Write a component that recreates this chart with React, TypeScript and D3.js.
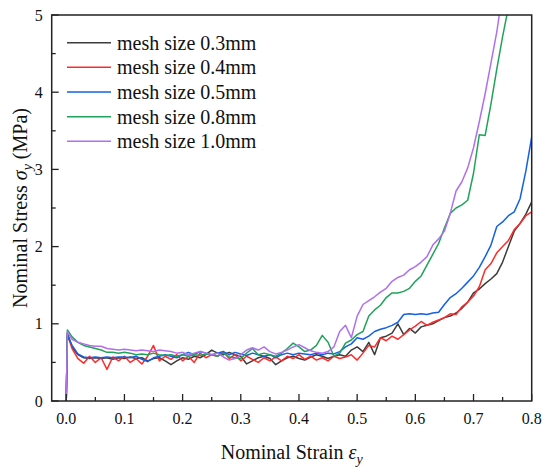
import * as d3 from 'd3';

const strain = [
  0, 0.002, 0.01, 0.02, 0.03, 0.04, 0.05, 0.06, 0.07, 0.08, 0.09,
  0.10, 0.11, 0.12, 0.13, 0.14, 0.15, 0.16, 0.17, 0.18, 0.19,
  0.20, 0.21, 0.22, 0.23, 0.24, 0.25, 0.26, 0.27, 0.28, 0.29,
  0.30, 0.31, 0.32, 0.33, 0.34, 0.35, 0.36, 0.37, 0.38, 0.39,
  0.40, 0.41, 0.42, 0.43, 0.44, 0.45, 0.46, 0.47, 0.48, 0.49,
  0.50, 0.51, 0.52, 0.53, 0.54, 0.55, 0.56, 0.57, 0.58, 0.59,
  0.60, 0.61, 0.62, 0.63, 0.64, 0.65, 0.66, 0.67, 0.68, 0.69,
  0.70, 0.71, 0.72, 0.73, 0.74, 0.75, 0.76, 0.77, 0.78, 0.79, 0.80,
];

const mesh03 = [
  0, 0.88, 0.70, 0.60, 0.56, 0.55, 0.56, 0.55, 0.56, 0.54, 0.56,
  0.55, 0.57, 0.55, 0.56, 0.52, 0.55, 0.56, 0.52, 0.47, 0.52,
  0.56, 0.54, 0.58, 0.56, 0.60, 0.66, 0.62, 0.60, 0.63, 0.60,
  0.58, 0.48, 0.52, 0.56, 0.58, 0.55, 0.47, 0.52, 0.56, 0.58,
  0.55, 0.53, 0.57, 0.60, 0.58, 0.55, 0.58, 0.60, 0.58, 0.66,
  0.70, 0.64, 0.76, 0.60, 0.82, 0.84, 0.88, 1.00, 0.86, 0.94,
  0.88, 0.96, 0.98, 1.00, 1.04, 1.08, 1.10, 1.14, 1.20, 1.28,
  1.40, 1.45, 1.52, 1.58, 1.65, 1.80, 2.00, 2.20, 2.30, 2.42, 2.58,
];

const mesh04 = [
  0, 0.86, 0.68, 0.55, 0.49, 0.58, 0.50, 0.56, 0.41, 0.57, 0.52,
  0.58, 0.50, 0.55, 0.48, 0.58, 0.72, 0.52, 0.58, 0.54, 0.60,
  0.52, 0.58, 0.50, 0.62, 0.56, 0.60, 0.58, 0.64, 0.55, 0.60,
  0.52, 0.58, 0.54, 0.50, 0.56, 0.52, 0.57, 0.52, 0.58, 0.55,
  0.60, 0.54, 0.58, 0.53, 0.56, 0.52, 0.58, 0.55, 0.57, 0.60,
  0.53, 0.62, 0.72, 0.70, 0.82, 0.78, 0.84, 0.80, 0.86, 0.92,
  0.97, 1.03, 0.98, 1.02, 1.05, 1.08, 1.13, 1.12, 1.22, 1.28,
  1.36, 1.48, 1.70, 1.78, 1.92, 2.00, 2.08, 2.22, 2.30, 2.40, 2.45,
];

const mesh05 = [
  0, 0.85, 0.72, 0.61, 0.57, 0.56, 0.57, 0.56, 0.57, 0.56, 0.57,
  0.57, 0.56, 0.58, 0.54, 0.51, 0.56, 0.58, 0.60, 0.58, 0.56,
  0.60, 0.63, 0.60, 0.64, 0.62, 0.60, 0.62, 0.64, 0.60, 0.63,
  0.61, 0.59, 0.62, 0.60, 0.58, 0.60, 0.56, 0.60, 0.62, 0.60,
  0.62, 0.61, 0.60, 0.62, 0.60, 0.62, 0.61, 0.64, 0.70, 0.74,
  0.82, 0.80, 0.84, 0.90, 0.93, 0.95, 0.98, 1.02, 1.12, 1.13,
  1.12, 1.13, 1.12, 1.14, 1.15, 1.25, 1.34, 1.39, 1.46, 1.54,
  1.62, 1.73, 1.87, 2.02, 2.26, 2.32, 2.40, 2.45, 2.62, 2.98, 3.42,
];

const mesh08 = [
  0, 0.92, 0.83, 0.76, 0.72, 0.70, 0.68, 0.66, 0.63, 0.63, 0.62,
  0.63, 0.62, 0.60, 0.61, 0.60, 0.62, 0.60, 0.59, 0.60, 0.58,
  0.60, 0.58, 0.60, 0.59, 0.61, 0.60, 0.58, 0.62, 0.57, 0.56,
  0.55, 0.62, 0.68, 0.60, 0.62, 0.60, 0.58, 0.62, 0.68, 0.75,
  0.70, 0.64, 0.66, 0.72, 0.85, 0.76, 0.58, 0.62, 0.75, 0.79,
  0.86, 0.90, 1.10, 1.18, 1.24, 1.34, 1.40, 1.40, 1.42, 1.46,
  1.55, 1.62, 1.76, 1.90, 2.04, 2.24, 2.43, 2.50, 2.54, 2.60,
  2.95, 3.45, 3.44, 3.85, 4.30, 4.72, 5.10,
];

const mesh10 = [
  0, 0.90, 0.80, 0.76, 0.74, 0.72, 0.71, 0.71, 0.68, 0.67, 0.66,
  0.67, 0.66, 0.65, 0.66, 0.65, 0.64, 0.66, 0.65, 0.64, 0.62,
  0.63, 0.60, 0.62, 0.64, 0.62, 0.60, 0.62, 0.57, 0.53, 0.55,
  0.60, 0.66, 0.69, 0.66, 0.70, 0.64, 0.61, 0.63, 0.66, 0.70,
  0.73, 0.69, 0.65, 0.63, 0.62, 0.64, 0.70, 0.90, 0.98, 0.82,
  1.10, 1.25, 1.30, 1.35, 1.41, 1.46, 1.55, 1.60, 1.63, 1.70,
  1.74, 1.80, 1.87, 2.02, 2.10, 2.20, 2.43, 2.72, 2.84, 3.02,
  3.28, 3.62, 3.98, 4.38, 4.78, 5.30,
];

const seriesNames = ['mesh size 0.3mm', 'mesh size 0.4mm', 'mesh size 0.5mm', 'mesh size 0.8mm', 'mesh size 1.0mm'];
const seriesColors = ['#3c3c3c', '#ff2a2a', '#1560e6', '#1fa35a', '#b070ee'];
const seriesValues = [mesh03, mesh04, mesh05, mesh08, mesh10];

const xMajor = [0, 0.1, 0.2, 0.3, 0.4, 0.5, 0.6, 0.7, 0.8];
const xMinor = [0.05, 0.15, 0.25, 0.35, 0.45, 0.55, 0.65, 0.75];
const yMajor = [0, 1, 2, 3, 4, 5];
const yMinor = [0.5, 1.5, 2.5, 3.5, 4.5];

const width = 550;
const height = 472;
const margin = { left: 51.7, right: 18.3, top: 15, bottom: 71 };

const App = () => {
  const x = d3.scaleLinear().domain([-0.025, 0.8]).range([margin.left, width - margin.right]);
  const y = d3.scaleLinear().domain([0, 5]).range([height - margin.bottom, margin.top]);

  const line = d3.line<number>()
    .x((_, i) => x(strain[i]))
    .y(d => y(d));

  const font = '"Liberation Serif", "Times New Roman", serif';
  const x0 = x.range()[0], x1 = x.range()[1];
  const y0 = y.range()[0], y1 = y.range()[1];

  return (
    <svg width={width} height={height} style={{ position: 'absolute', left: 0, top: 0 }} fontFamily={font}>
      <rect width={width} height={height} fill="#fff" />
      <defs>
        <clipPath id="plot">
          <rect x={x0} y={y1} width={x1 - x0} height={y0 - y1} />
        </clipPath>
      </defs>

      <g clipPath="url(#plot)" fill="none" strokeWidth={1.5} strokeLinejoin="round">
        {seriesValues.map((vals, k) => (
          <path key={k} d={line(vals) || ''} stroke={seriesColors[k]} />
        ))}
      </g>

      {/* ticks point into the plot */}
      <g stroke="#222" strokeWidth={1.3}>
        {xMajor.map(t => <line key={'xM' + t} x1={x(t)} x2={x(t)} y1={y0} y2={y0 - 7} />)}
        {xMinor.map(t => <line key={'xm' + t} x1={x(t)} x2={x(t)} y1={y0} y2={y0 - 4} />)}
        {yMajor.map(t => <line key={'yM' + t} x1={x0} x2={x0 + 7} y1={y(t)} y2={y(t)} />)}
        {yMinor.map(t => <line key={'ym' + t} x1={x0} x2={x0 + 4} y1={y(t)} y2={y(t)} />)}
      </g>
      <rect x={x0} y={y1} width={x1 - x0} height={y0 - y1} fill="none" stroke="#222" strokeWidth={1.5} />

      <g fontSize={16} fill="#111">
        {xMajor.map(t => (
          <text key={'xl' + t} x={x(t)} y={y0 + 23} textAnchor="middle">{t.toFixed(1)}</text>
        ))}
        {yMajor.map(t => (
          <text key={'yl' + t} x={x0 - 9} y={y(t) + 5.5} textAnchor="end">{t}</text>
        ))}
      </g>

      <text x={(x0 + x1) / 2} y={459} fontSize={20} textAnchor="middle" fill="#111">
        Nominal Strain <tspan fontStyle="italic">ε</tspan>
        <tspan fontStyle="italic" fontSize={14} dy={5}>y</tspan>
      </text>
      <text transform={`translate(27,${(y0 + y1) / 2}) rotate(-90)`} fontSize={20} textAnchor="middle" fill="#111">
        Nominal Stress <tspan fontStyle="italic">σ</tspan>
        <tspan fontStyle="italic" fontSize={14} dy={5}>y</tspan>
        <tspan dy={-5}> (MPa)</tspan>
      </text>

      <g>
        {seriesNames.map((name, k) => {
          const ly = 42.7 + k * 24.65;
          return (
            <g key={name}>
              <line x1={67} x2={111} y1={ly} y2={ly} stroke={seriesColors[k]} strokeWidth={1.5} />
              <text x={117} y={ly + 7} fontSize={20} fill="#111">{name}</text>
            </g>
          );
        })}
      </g>
    </svg>
  );
};

export default App;
